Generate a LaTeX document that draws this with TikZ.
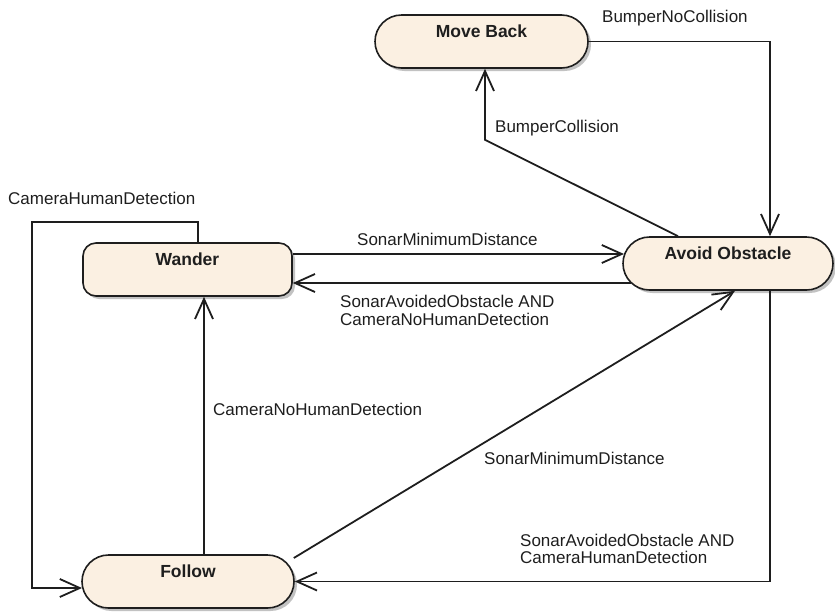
\documentclass[tikz,border=0pt]{standalone}
\usepackage{fontspec}
\setmainfont{Liberation Sans}
\usetikzlibrary{arrows.meta,calc,shadows,shapes.misc}

\definecolor{statefill}{RGB}{251,240,226}
\definecolor{ink}{RGB}{30,30,30}

\begin{document}
\begin{tikzpicture}[x=1pt,y=-1pt,
  statebase/.style={draw=ink, line width=1.6pt, fill=statefill,
    minimum height=53pt, inner sep=0pt,
    drop shadow={shadow xshift=3pt, shadow yshift=-3pt, fill=black!40, opacity=0.6}},
  state/.style={statebase, rounded rectangle, sharp corners},
  boxstate/.style={statebase, rectangle, rounded corners=13pt},
  statename/.style={font=\fontsize{17.5}{18}\selectfont\bfseries, text=ink, inner sep=0pt},
  trans/.style={draw=ink, line width=1.8pt,
    -{Straight Barb[length=20pt,width=18pt,line width=1.8pt]}},
  cond/.style={font=\fontsize{17}{17.5}\selectfont, text=ink, anchor=west,
    inner sep=0pt, align=left}]
\useasboundingbox (0,0) rectangle (835,611);

% states
\node[state, minimum width=213pt] (mb) at (481.5,41.5) {};
\node[state, minimum width=210pt] (ao) at (728,263.5) {};
\node[boxstate, minimum width=209pt] (wa) at (187.5,269.5) {};
\node[state, minimum width=212pt] (fo) at (188,581.5) {};

\node[statename] (mbt) at ($(mb.north)+(0,17)$) {Move Back};
\node[statename] (aot) at ($(ao.north)+(0,17)$) {Avoid Obstacle};
\node[statename] (wat) at ($(wa.north)+(0,17)$) {Wander};
\node[statename] (fot) at ($(fo.north)+(0,17)$) {Follow};

% helper points
\coordinate (loopcorner) at (32,222);
\coordinate (fup) at ($(fo.north)+(16,0)$);

% transitions
\draw[trans] (mb.east) -| ($(ao.north)+(42,0)$);
\draw[trans] ($(ao.north)+(-50,0)$) -- ($(mb.south)+(3.5,71)$) -- ($(mb.south)+(3.5,0)$);
\draw[trans] ($(wa.north)+(10.5,0)$) |- (loopcorner) |- ($(fo.west)+(0.8,6.5)$);
\draw[trans] ($(wa.east)+(0,-15.5)$) -- ($(ao.west)+(1.8,-9.5)$);
\draw[trans] ($(ao.west)+(8.6,19.5)$) -- ($(wa.east)+(0,13.5)$);
\draw[trans] (fup) -- (fup |- wa.south);
\draw[trans] ($(fo.east)+(-1,-23.5)$) -- ($(ao.south)+(7,0)$);
\draw[trans] ($(ao.south)+(42,0)$) |- (fo.east);

% conditions
\node[cond] (l1) at (602,18) {BumperNoCollision};
\node[cond] (l2) at (495,128) {BumperCollision};
\node[cond] (l3) at (8,198) {CameraHumanDetection};
\node[cond] (l4) at (357,239) {SonarMinimumDistance};
\node[cond] (l5) at (340,310.5) {SonarAvoidedObstacle AND\\CameraNoHumanDetection};
\node[cond] (l6) at (213,409) {CameraNoHumanDetection};
\node[cond] (l7) at (484,458) {SonarMinimumDistance};
\node[cond] (l8) at (520,549) {SonarAvoidedObstacle AND\\CameraHumanDetection};
\end{tikzpicture}
\end{document}
